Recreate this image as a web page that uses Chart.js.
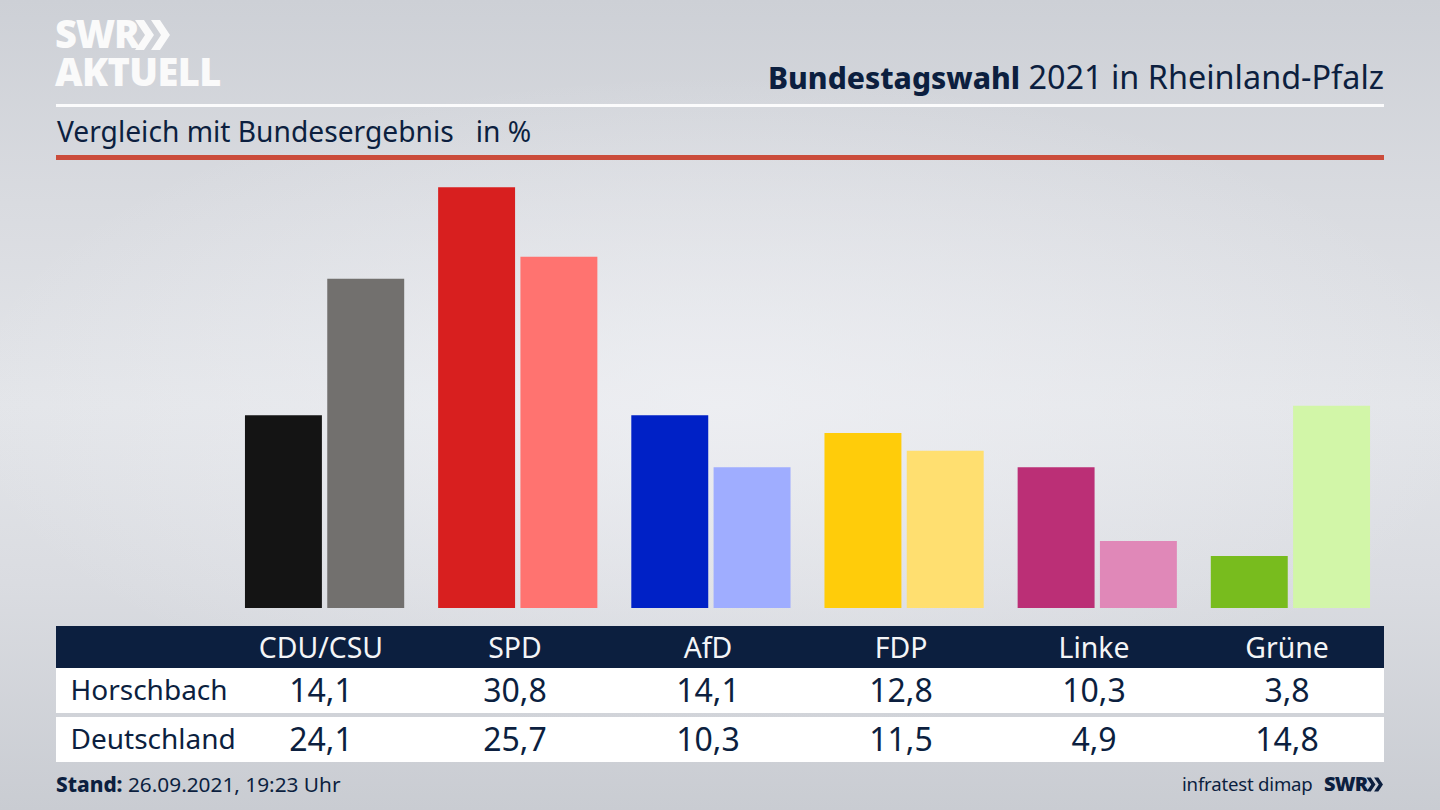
<!DOCTYPE html>
<html lang="de"><head><meta charset="utf-8"><title>Bundestagswahl 2021</title>
<script src="https://cdn.jsdelivr.net/npm/chart.js@4"></script>
<style>
html,body{margin:0;padding:0;width:1440px;height:810px;overflow:hidden}
body{position:relative;font-family:"Noto Sans",sans-serif;color:#0c1f3f;
background:radial-gradient(ellipse 760px 330px at 50% 50%,rgba(240,241,245,.75) 0%,rgba(240,241,245,0) 100%),linear-gradient(180deg,#cdd0d6 0%,#d9dbe0 25%,#e3e5e9 50%,#dadce1 72%,#c9ccd2 100%)}
.a{position:absolute;white-space:nowrap;line-height:1}
#chartBox{position:absolute;left:228px;top:168px;width:1159px;height:440px}
.row{position:absolute;left:56px;width:1328px}
.cell{position:absolute;top:0;width:160px;text-align:center;transform:translateX(-80px);line-height:1}
.name{position:absolute;left:14.5px;line-height:1;font-size:28px}
</style></head><body>
<div class="a" style="left:55px;top:14px;font-size:38px;font-weight:800;color:#fafafa;letter-spacing:-1.2px;font-family:'Open Sans'">SWR</div>
<svg class="a" style="left:134px;top:19px" width="38" height="32" viewBox="0 0 38 32"><path fill="#fafafa" d="M1 1h9l10 15-10 15H1l10-15zM17 1h9l10 15-10 15h-9l10-15z"/></svg>
<div class="a" style="left:55px;top:52px;font-size:38px;font-weight:800;color:#fafafa;font-family:'Open Sans';letter-spacing:-.6px">AKTUELL</div>
<div class="a" style="right:56px;top:60px;font-size:32.4px"><b style="font-weight:800;font-size:30px">Bundestagswahl</b> 2021 in Rheinland-Pfalz</div>
<div class="a" style="left:56px;top:104px;width:1328px;height:3px;background:#fbfbfc"></div>
<div class="a" style="left:57px;top:117px;font-size:28.2px;white-space:pre">Vergleich mit Bundesergebnis   in %</div>
<div class="a" style="left:56px;top:155px;width:1328px;height:5px;background:#cb4c3b"></div>
<div id="chartBox"><canvas id="c" width="1159" height="440"></canvas></div>
<div class="row" style="top:626px;height:42px;background:#0c1f3f;color:#f4f5f7" id="head"></div>
<div class="row" style="top:668px;height:45px;background:#fff" id="r1"></div>
<div class="row" style="top:717px;height:45px;background:#fff" id="r2"></div>
<div class="a" style="left:56px;top:774px;font-size:20.8px"><b style="font-weight:800">Stand:</b> 26.09.2021, 19:23 Uhr</div>
<div class="a" style="left:1182px;top:775px;font-size:18.6px;letter-spacing:-.2px">infratest dimap</div>
<div class="a" style="left:1324px;top:774px;font-size:20px;font-weight:800;letter-spacing:-.8px;font-family:'Open Sans'">SWR</div>
<svg class="a" style="left:1366px;top:777px" width="18" height="15" viewBox="0 0 38 32"><path fill="#0c1f3f" d="M1 1h9l10 15-10 15H1l10-15zM17 1h9l10 15-10 15h-9l10-15z"/></svg>
<script>
const categories = ["CDU/CSU","SPD","AfD","FDP","Linke","Grüne"];
const regionName = "Horschbach";
const nationName = "Deutschland";
const regionValues = [14.1,30.8,14.1,12.8,10.3,3.8];
const nationValues = [24.1,25.7,10.3,11.5,4.9,14.8];
const regionColors = ["#141414","#d81f1f","#0021c6","#ffcc0a","#bb2f76","#78bc1e"];
const nationColors = ["#72706e","#ff7370","#9fadff","#ffdf70","#e088b8","#d2f6a8"];
const columnCentres = [321,515,708,901,1094,1287];

new Chart(document.getElementById("c"),{
  type:"bar",
  data:{labels:categories,datasets:[
    {label:regionName,data:regionValues,backgroundColor:regionColors,borderWidth:0,categoryPercentage:0.852,barPercentage:0.935},
    {label:nationName,data:nationValues,backgroundColor:nationColors,borderWidth:0,categoryPercentage:0.852,barPercentage:0.935}
  ]},
  options:{responsive:false,animation:false,
    layout:{padding:0},
    plugins:{legend:{display:false},tooltip:{enabled:false},title:{display:false}},
    scales:{x:{display:false},y:{display:false,min:0,max:32.2}}}
});

const fmt=v=>v.toFixed(1).replace(".",",");
function fill(id,name,vals,top,size){
  const el=document.getElementById(id);
  if(name){const n=document.createElement("div");n.className="name";n.textContent=name;n.style.top=(top+1)+"px";el.appendChild(n);}
  vals.forEach((v,i)=>{const d=document.createElement("div");d.className="cell";d.textContent=typeof v==="number"?fmt(v):v;
    d.style.left=(columnCentres[i]-56)+"px";d.style.top=top+"px";d.style.fontSize=size+"px";el.appendChild(d);});
}
fill("head",null,categories,7,28.4);
fill("r1",regionName,regionValues,6,32);
fill("r2",nationName,nationValues,6,32);
</script>
</body></html>
